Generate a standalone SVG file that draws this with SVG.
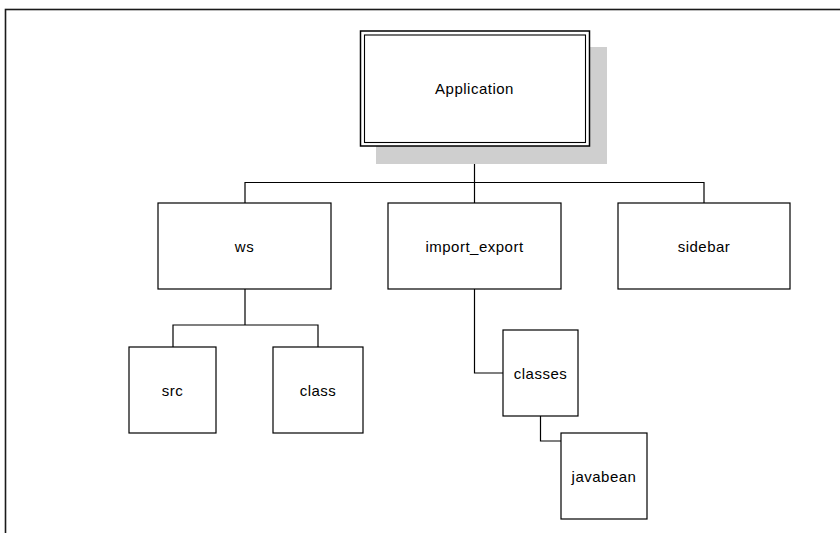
<svg xmlns="http://www.w3.org/2000/svg" width="840" height="533" viewBox="0 0 840 533">
  <style>
    .box { fill: #ffffff; stroke: #000000; stroke-width: 1.2; }
    .wire { fill: none; stroke: #000000; stroke-width: 1.2; }
    .label { font-family: "Liberation Sans", Arial, sans-serif; font-size: 15px; letter-spacing: 0.5px; fill: #000000; text-anchor: middle; dominant-baseline: central; }
  </style>
  <rect width="840" height="533" fill="#ffffff"/>

  <!-- page frame, running off the right and bottom edges -->
  <rect x="5.5" y="9.5" width="860" height="560" fill="none" stroke="#1a1a1a" stroke-width="1.6"/>

  <!-- connectors -->
  <g id="connectors">
    <path class="wire" d="M474.5 146 V203"/>
    <path class="wire" d="M245 203 V182.5 H704 V203"/>
    <path class="wire" d="M245 289 V325 H173 V347 M245 325 H318 V347"/>
    <path class="wire" d="M474.5 289 V373 H503"/>
    <path class="wire" d="M540.5 416 V441 H561"/>
  </g>

  <!-- root node with drop shadow and double border -->
  <g id="node-application">
    <rect x="376" y="47" width="231" height="117" fill="#cfcfcf"/>
    <rect x="360.5" y="31" width="229" height="115" fill="#ffffff" stroke="#000000" stroke-width="1.5"/>
    <rect x="364.5" y="35" width="221" height="107.5" fill="none" stroke="#000000" stroke-width="1.1"/>
    <text class="label" x="474.5" y="88">Application</text>
  </g>

  <g id="node-ws">
    <rect class="box" x="158" y="203" width="173" height="86"/>
    <text class="label" x="244.5" y="246">ws</text>
  </g>

  <g id="node-import_export">
    <rect class="box" x="388" y="203" width="173" height="86"/>
    <text class="label" x="474.5" y="246">import_export</text>
  </g>

  <g id="node-sidebar">
    <rect class="box" x="618" y="203" width="172" height="86"/>
    <text class="label" x="704" y="246">sidebar</text>
  </g>

  <g id="node-src">
    <rect class="box" x="129" y="347" width="87" height="86"/>
    <text class="label" x="172.5" y="390">src</text>
  </g>

  <g id="node-class">
    <rect class="box" x="273" y="347" width="90" height="86"/>
    <text class="label" x="318" y="390">class</text>
  </g>

  <g id="node-classes">
    <rect class="box" x="503" y="330" width="75" height="86"/>
    <text class="label" x="540.5" y="373">classes</text>
  </g>

  <g id="node-javabean">
    <rect class="box" x="561" y="433" width="86" height="86"/>
    <text class="label" x="604" y="476">javabean</text>
  </g>
</svg>
